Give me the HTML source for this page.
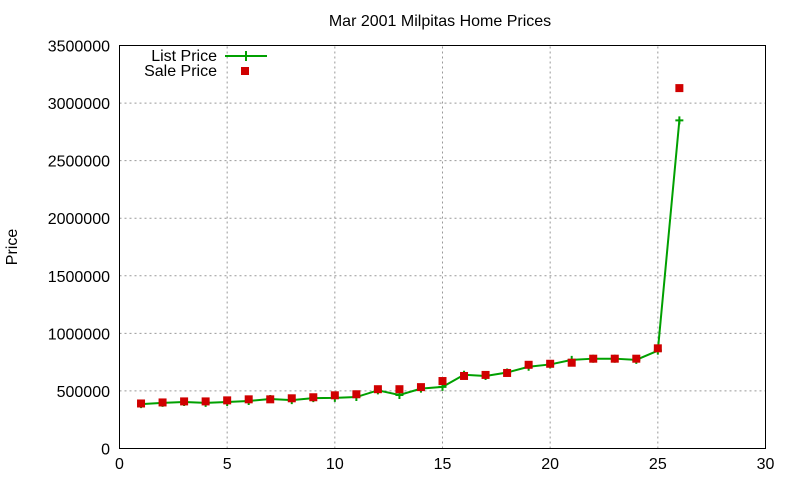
<!DOCTYPE html>
<html><head><meta charset="utf-8"><style>
body{margin:0;background:#fff}
svg{display:block;font-family:"Liberation Sans",sans-serif}
</style></head><body>
<svg id="chart" width="800" height="480" viewBox="0 0 800 480">
<rect width="800" height="480" fill="#fff"/>
<text x="440" y="26" font-size="16" text-anchor="middle">Mar 2001 Milpitas Home Prices</text>
<text x="17" y="247" font-size="16" text-anchor="middle" transform="rotate(-90 17 247)">Price</text>
<g id="grid"></g>
<rect x="119.5" y="45.5" width="646" height="403" fill="none" stroke="#000"/>
<g id="ticks"></g>
<g id="series"></g>
<g>
<text x="217" y="61" font-size="16" text-anchor="end">List Price</text>
<line x1="225" y1="56" x2="267" y2="56" stroke="#00a000" stroke-width="2"/>
<line x1="246" y1="51" x2="246" y2="61" stroke="#00a000" stroke-width="2"/>
<text x="217" y="76" font-size="16" text-anchor="end">Sale Price</text>
<rect x="241" y="67" width="8" height="8" fill="#d00000"/>
</g>
</svg>
<script>
const xTicks=[0,5,10,15,20,25,30];
const yTicks=[0,500000,1000000,1500000,2000000,2500000,3000000,3500000];
const houses=[1,2,3,4,5,6,7,8,9,10,11,12,13,14,15,16,17,18,19,20,21,22,23,24,25,26];
const listPrice=[385000,396000,404000,396000,404000,413000,430000,420000,438000,440000,447000,505000,465000,520000,535000,640000,630000,660000,710000,730000,770000,780000,780000,770000,850000,2850000];
const salePrice=[391000,400000,409000,409000,418000,427000,427000,436000,445000,462000,471000,515000,515000,533000,586000,630000,639000,656000,727000,736000,745000,780000,780000,780000,870000,3130000];
const NS="http://www.w3.org/2000/svg";
const X0=119.5,X1=765.5,Y0=448.5,Y1=45.5;
function sx(v){return X0+(v-0)/(30-0)*(X1-X0);}
function sy(v){return Y0-(v-0)/(3500000-0)*(Y0-Y1);}
function mk(tag,attrs,parent){const e=document.createElementNS(NS,tag);for(const k in attrs)e.setAttribute(k,attrs[k]);parent.appendChild(e);return e;}
const grid=document.getElementById('grid'),ticks=document.getElementById('ticks'),series=document.getElementById('series');
xTicks.forEach(t=>{
  const x=sx(t);
  if(t>0&&t<30){const g=mk('line',{x1:x,y1:Y0,x2:x,y2:Y1,stroke:'#999','stroke-dasharray':'2,3'},grid);
  
  }
  const tx=mk('text',{x:x,y:469,'font-size':16,'text-anchor':'middle'},ticks);tx.textContent=t;
  
  
});
yTicks.forEach(t=>{
  const y=sy(t);
  if(t>0&&t<3500000){const g=mk('line',{x1:X0,y1:y,x2:X1,y2:y,stroke:'#999','stroke-dasharray':'2,3'},grid);
  
  }
  const tx=mk('text',{x:110,y:y+6,'font-size':16,'text-anchor':'end'},ticks);tx.textContent=t;
  
  
});
const pts=houses.map((h,i)=>sx(h)+','+sy(listPrice[i])).join(' ');
const pl=mk('polyline',{points:pts,fill:'none',stroke:'#00a000','stroke-width':2},series);


houses.forEach((h,i)=>{
  const x=sx(h),y=sy(listPrice[i]);
  const m=mk('path',{d:`M${x-4},${y}H${x+4}M${x},${y-4}V${y+4}`,stroke:'#00a000','stroke-width':2},series);
  
  
});
houses.forEach((h,i)=>{
  const r=mk('rect',{x:sx(h)-4,y:sy(salePrice[i])-4,width:8,height:8,fill:'#d00000'},series);
  
  
});
</script>
</body></html>
